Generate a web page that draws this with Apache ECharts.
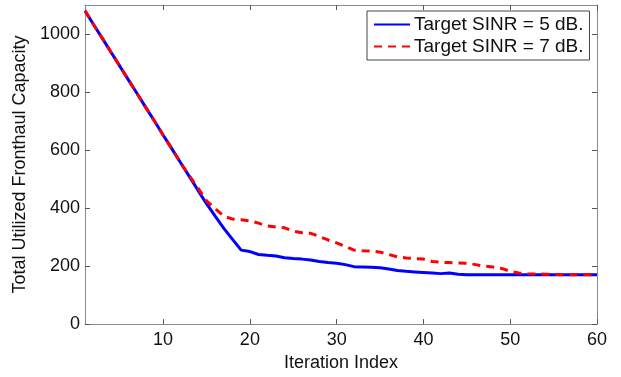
<!DOCTYPE html>
<html><head><meta charset="utf-8">
<script src="https://cdn.jsdelivr.net/npm/echarts@6/dist/echarts.min.js"></script>
<style>html,body{margin:0;padding:0;background:#fff}#c{width:621px;height:377px}</style>
</head><body><div id="c"></div>
<script>
const iterations = [1,2,3,4,5,6,7,8,9,10,11,12,13,14,15,16,17,18,19,20,21,22,23,24,25,26,27,28,29,30,31,32,33,34,35,36,37,38,39,40,41,42,43,44,45,46,47,48,49,50,51,52,53,54,55,56,57,58,59,60];
const sinr5 = [1080,1032,985,937,890,842,795,747,700,652,605,557,510,462,415,372,330,292,255,250,240,237,235,229,226,224,221,216,212,210,205,198,197,196,194,190,185,182,180,178,176,174,176,172,170,170,170,170,170,170,170,170,170,170,170,170,170,170,170,170];
const sinr7 = [1080,1032,985,937,890,842,795,747,700,652,605,557,512,470,425,398,372,362,360,356,348,338,335,332,320,315,313,302,290,280,268,255,253,252,248,240,232,228,226,224,216,213,212,211,210,205,200,197,192,182,176,174,173,172,171,170,170,170,170,170];
const xTicks = [10,20,30,40,50,60];
const yTicks = [0,200,400,600,800,1000];
const names = ['Target SINR = 5 dB.','Target SINR = 7 dB.'];

const font = 'Liberation Sans, Arial, sans-serif';
const axisGray = '#8a8a8a';
const chart = echarts.init(document.getElementById('c'), null, {renderer:'canvas'});
const mkX = (pos, show) => ({
  type:'value', position:pos, min:1, max:60,
  axisLine:{show:true, onZero:false, lineStyle:{color:axisGray, width:1}},
  axisTick:{show:true, inside:true, length:5, customValues:xTicks, lineStyle:{color:'#555'}},
  axisLabel:{show:show, customValues:xTicks, color:'#111', fontFamily:font, fontSize:18, margin:7,
    formatter:v=>String(v)},
  splitLine:{show:false},
  name: show ? 'Iteration Index' : '', nameLocation:'middle', nameGap:23,
  nameTextStyle:{color:'#111', fontFamily:font, fontSize:18}
});
const mkY = (pos, show) => ({
  type:'value', position:pos, min:0, max:1100,
  axisLine:{show:true, onZero:false, lineStyle:{color:axisGray, width:1}},
  axisTick:{show:true, inside:true, length:5, customValues:yTicks, lineStyle:{color:'#555'}},
  axisLabel:{show:show, customValues:yTicks, color:'#111', fontFamily:font, fontSize:18, margin:5,
    formatter:v=>String(v)},
  splitLine:{show:false},
  name: show ? 'Total Utilized Fronthaul Capacity' : '', nameLocation:'middle', nameGap:48,
  nameTextStyle:{color:'#111', fontFamily:font, fontSize:18}
});
const option = {
  animation:false,
  backgroundColor:'#fff',
  grid:{left:85, right:24, top:5, bottom:50},
  xAxis:[mkX('bottom', true), mkX('top', false)],
  yAxis:[mkY('left', true), mkY('right', false)],
  legend:{
    orient:'vertical', left:367, top:11,
    backgroundColor:'#fff', borderColor:'#444', borderWidth:1,
    padding:[4,6,4,6], itemGap:3, itemWidth:36, itemHeight:16,
    itemStyle:{opacity:0},
    textStyle:{color:'#111', fontFamily:font, fontSize:19, padding:[0,0,0,-1]},
    data:names
  },
  series:[
    {name:names[0], type:'line', symbol:'none', data:iterations.map((x,i)=>[x,sinr5[i]]),
     lineStyle:{color:'#0000ff', width:3}, itemStyle:{color:'#0000ff'}, z:2},
    {name:names[1], type:'line', symbol:'none', data:iterations.map((x,i)=>[x,sinr7[i]]),
     lineStyle:{color:'#ff0000', width:3, type:[8,6]}, itemStyle:{color:'#ff0000'}, z:3}
  ]
};
chart.setOption(option);
</script></body></html>
